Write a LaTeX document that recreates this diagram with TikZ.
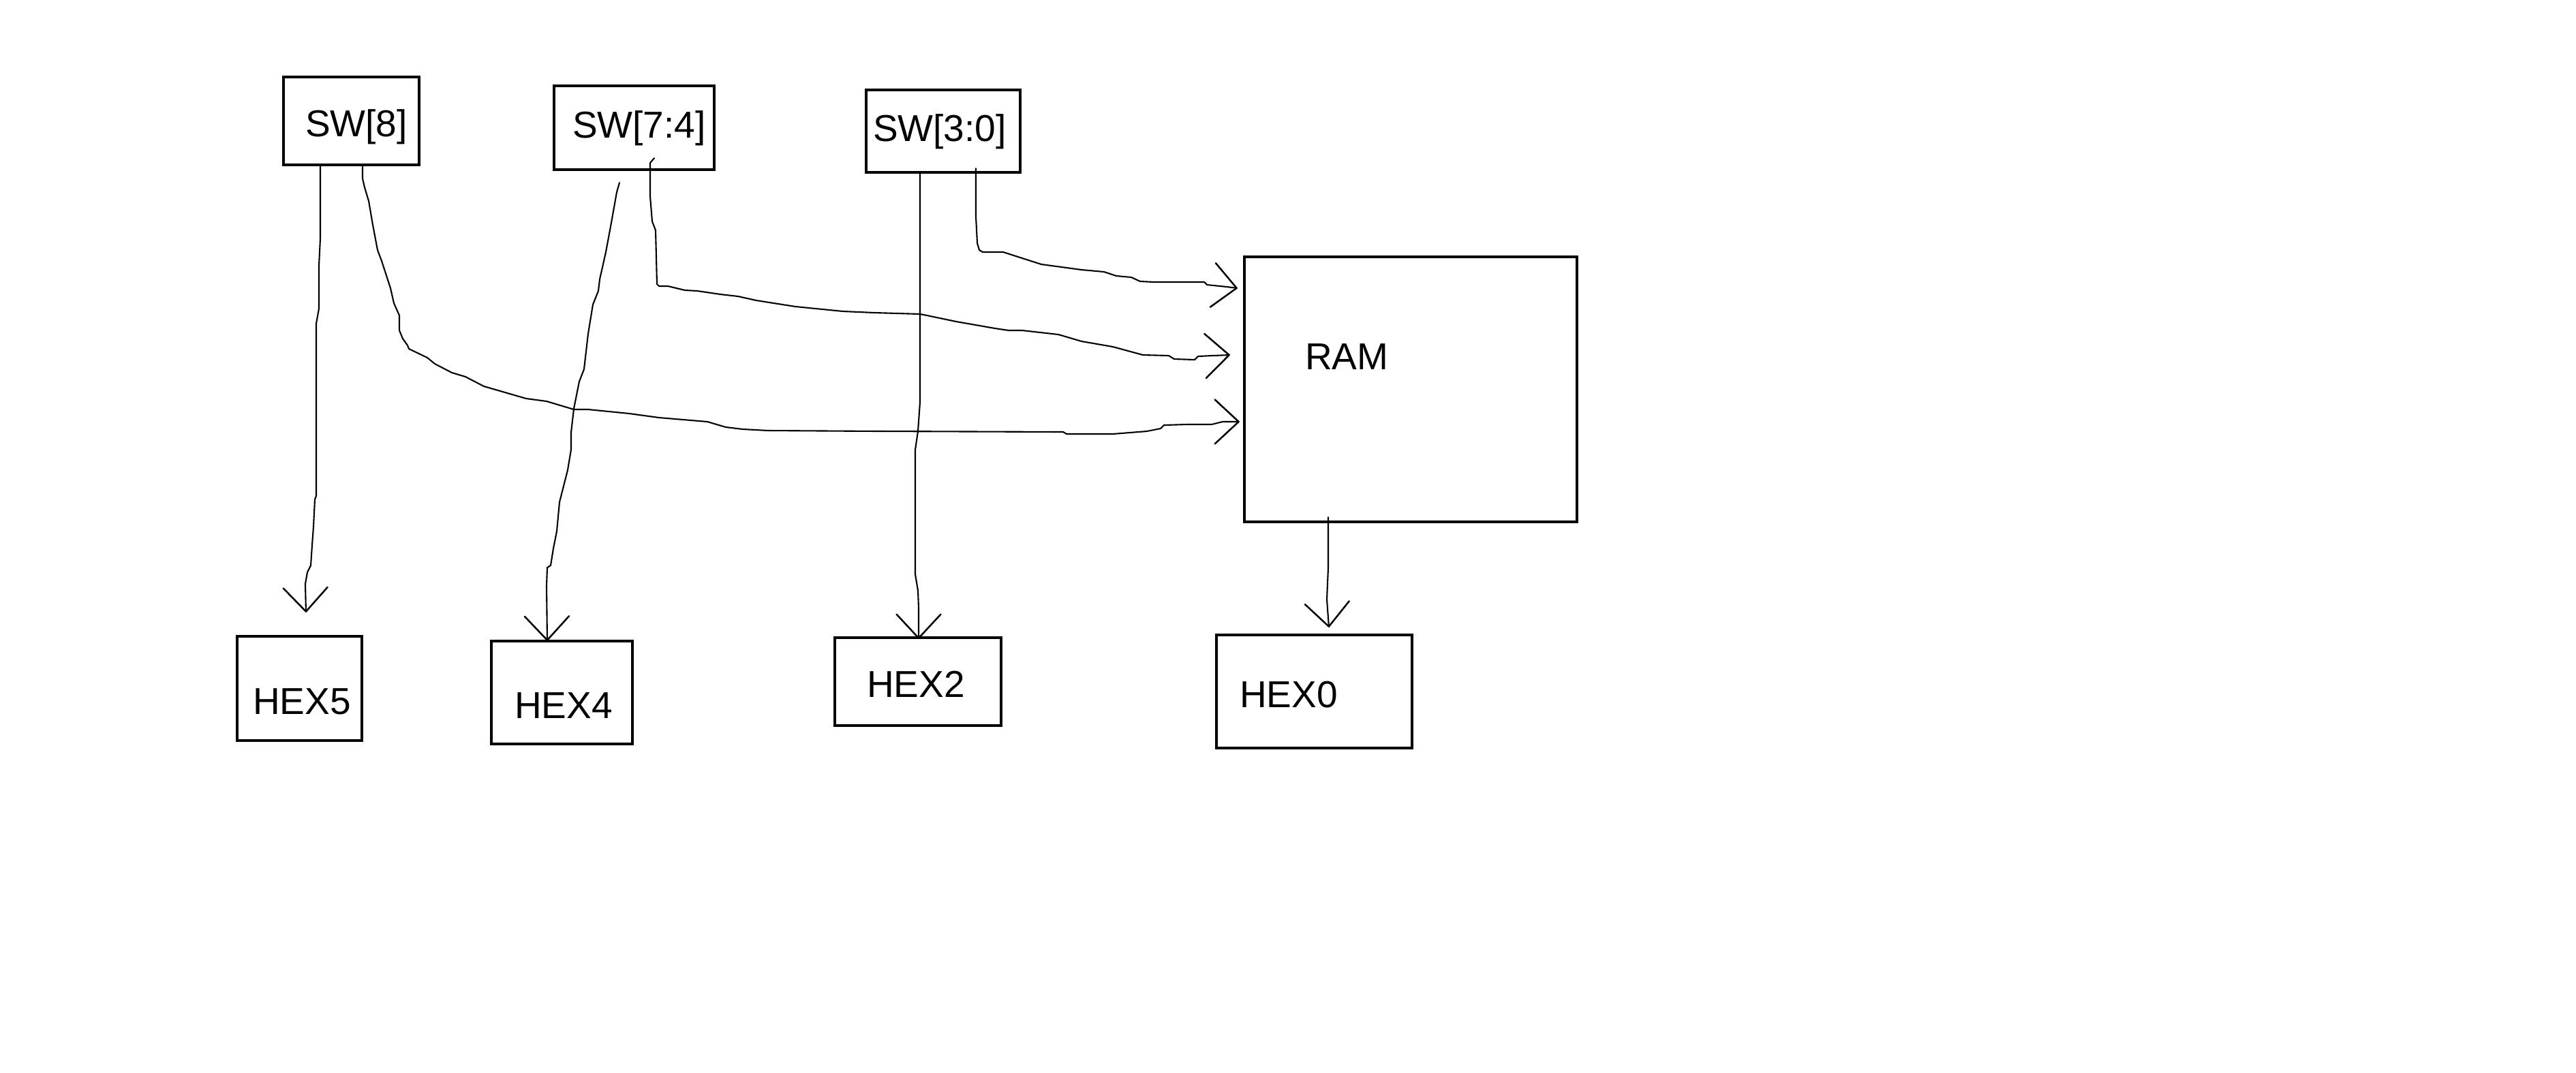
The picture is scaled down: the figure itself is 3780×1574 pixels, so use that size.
\documentclass[tikz,border=0pt]{standalone}
\usepackage{fontspec}
\setmainfont{Liberation Sans}
\usetikzlibrary{arrows.meta,calc}
\tikzset{
  blk/.style 2 args={draw, line width=0.85pt, rectangle, inner sep=0pt,
    minimum width=#1*0.2pt, minimum height=#2*0.2pt},
  lbl/.style={inner sep=0pt, anchor=base west, font=\fontsize{11pt}{13pt}\selectfont},
  wire/.style={line width=0.42pt, line join=round, line cap=round,
    -{Straight Barb[length=7pt,width=13pt,line width=0.5pt,round]}},
  plainwire/.style={line width=0.42pt, line join=round, line cap=round}
}
\begin{document}
\begin{tikzpicture}[x=0.2pt,y=-0.2pt]
\useasboundingbox[fill=white] (0,0) rectangle (3780,1574);

% boxes
\node[blk={199}{129}] (sw8)  at (515.5,177.5) {};
\node[blk={235}{123}] (sw74) at (930.5,187.5) {};
\node[blk={226}{121}] (sw30) at (1384,192.5) {};
\node[blk={488}{389}] (ram)  at (2070,571.5) {};
\node[blk={183}{153}] (hex5) at (439.5,1010.5) {};
\node[blk={207}{151}] (hex4) at (824.5,1016.5) {};
\node[blk={244}{129}] (hex2) at (1347,1000.5) {};
\node[blk={287}{166}] (hex0) at (1928.5,1015) {};

% labels
\node[lbl] (tsw8)  at (447,200)  {SW[8]};
\node[lbl] (tsw74) at (839,202)  {SW[7:4]};
\node[lbl] (tsw30) at (1280,207) {SW[3:0]};
\node[lbl] (tram)  at (1914,542) {RAM};
\node[lbl] (thex5) at (370,1048) {HEX5};
\node[lbl] (thex4) at (754,1054) {HEX4};
\node[lbl] (thex2) at (1271,1023) {HEX2};
\node[lbl] (thex0) at (1818,1038) {HEX0};

% SW[8] -> HEX5
\draw[wire] (sw8.south -| 470,0) -- (470,350) -- (468,390) -- (468,453) -- (464,475)
  -- (464,728) -- (462,733) -- (460,773) -- (458,800) -- (456,830) -- (451,840)
  -- (448,857) -- ($(hex5.north -| 449,0)+(0,-33)$);

% SW[8] -> RAM
\draw[wire] ($(sw8.south -| 532,0)+(0,-3)$) -- (532,262) -- (535,275) -- (541,295) -- (547,330)
  -- (554,367) -- (560,383) -- (573,423) -- (578,445) -- (586,463) -- (586,485)
  -- (591,497) -- (598,507) -- (600,512) -- (627,525) -- (638,534) -- (663,547)
  -- (683,553) -- (710,567) -- (772,585) -- (802,589) -- (842,601) -- (863,601)
  -- (923,607) -- (967,613) -- (1038,619) -- (1065,627) -- (1090,630) -- (1127,632)
  -- (1290,633) -- (1560,634) -- (1565,637) -- (1633,637) -- (1683,633) -- (1703,629)
  -- (1708,624) -- (1742,623) -- (1778,623) -- (1794,619)
  -- ($(ram.west |- 0,619)+(-5,0)$);

% SW[7:4] -> HEX4
\draw[wire] ($(sw74.south -| 909,0)+(0,17)$) -- (905,282) -- (897,327) -- (889,370)
  -- (880,410) -- (878,427) -- (870,447) -- (863,490) -- (857,542) -- (850,560)
  -- (842,600) -- (838,635) -- (838,660) -- (833,690) -- (821,737) -- (817,780)
  -- (812,805) -- (808,830) -- (803,833) -- (802,860)
  -- ($(hex4.north -| 803,0)+(0,2)$);

% SW[7:4] -> RAM
\draw[wire] ($(sw74.south -| 960,0)+(0,-19)$) -- (954,239) -- (954,288) -- (957,325)
  -- (962,338) -- (963,377) -- (964,417) -- (967,420) -- (980,420) -- (1005,426)
  -- (1023,427) -- (1057,432) -- (1083,435) -- (1110,441) -- (1167,450) -- (1237,457)
  -- (1283,459) -- (1350,461) -- (1360,463) -- (1403,472) -- (1460,482) -- (1480,485)
  -- (1500,485) -- (1553,491) -- (1587,501) -- (1633,509) -- (1677,521) -- (1715,522)
  -- (1723,527) -- (1753,528) -- (1758,523) -- (1780,522)
  -- ($(ram.west |- 0,521)+(-19,0)$);

% SW[3:0] -> HEX2
\draw[wire] (sw30.south -| 1350,0) -- (1350,590) -- (1347,633) -- (1343,660)
  -- (1343,843) -- (1347,867) -- (1348,893)
  -- ($(hex2.north -| 1348,0)+(0,4)$);

% SW[3:0] -> RAM
\draw[wire] ($(sw30.south -| 1432,0)+(0,-8)$) -- (1432,318) -- (1434,357) -- (1437,367)
  -- (1442,370) -- (1472,370) -- (1528,388) -- (1587,396) -- (1620,399) -- (1638,405)
  -- (1660,407) -- (1673,413) -- (1693,414) -- (1767,414) -- (1771,418) -- (1800,421)
  -- ($(ram.west |- 0,423)+(-8,0)$);

% RAM -> HEX0
\draw[wire] ($(ram.south -| 1949,0)+(0,-9)$) -- (1949,833) -- (1947,880)
  -- ($(hex0.north -| 1950,0)+(0,-9)$);
\end{tikzpicture}
\end{document}
